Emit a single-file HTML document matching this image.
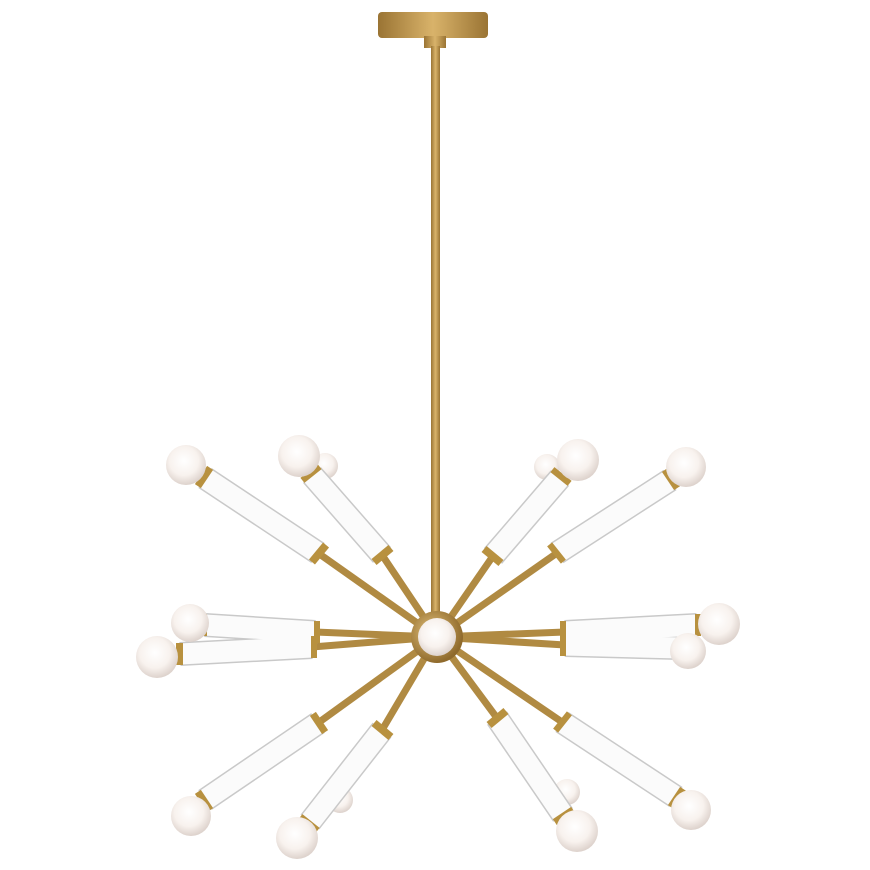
<!DOCTYPE html>
<html><head><meta charset="utf-8"><style>html,body{margin:0;padding:0;background:#fff;width:870px;height:870px;overflow:hidden}</style></head>
<body>
<svg width="870" height="870" viewBox="0 0 870 870" xmlns="http://www.w3.org/2000/svg">
<defs>
<radialGradient id="bulb" cx="0.45" cy="0.4" r="0.6">
<stop offset="0" stop-color="#ffffff"/><stop offset="0.6" stop-color="#f8f2ee"/><stop offset="1" stop-color="#ddd2cc"/>
</radialGradient>
<linearGradient id="brass" x1="0" y1="0" x2="1" y2="0">
<stop offset="0" stop-color="#9a7434"/><stop offset="0.5" stop-color="#d9b36a"/><stop offset="1" stop-color="#9a7434"/>
</linearGradient>
<radialGradient id="hub" cx="0.4" cy="0.4" r="0.6"><stop offset="0" stop-color="#e2c07a"/><stop offset="1" stop-color="#8f6a2c"/></radialGradient>
</defs>
<!-- canopy -->
<rect x="378" y="12" width="110" height="26" rx="4" fill="url(#brass)"/>
<rect x="424" y="36" width="22" height="12" fill="url(#brass)"/>
<rect x="431" y="46" width="9" height="570" fill="url(#brass)"/>
<g id="arms" stroke-linecap="butt">
<!-- back bulbs -->
<g fill="url(#bulb)">
<circle cx="325" cy="466" r="13"/><circle cx="547" cy="467" r="13"/>
<circle cx="340" cy="800" r="13"/><circle cx="567" cy="792" r="13"/>
</g>
<!-- rods -->
<g stroke="#b08a42" stroke-width="7">
<line x1="437" y1="637" x2="318" y2="553"/>
<line x1="437" y1="637" x2="382" y2="555"/>
<line x1="437" y1="637" x2="493" y2="556"/>
<line x1="437" y1="637" x2="557" y2="553"/>
<line x1="437" y1="637" x2="315" y2="632"/>
<line x1="437" y1="637" x2="312" y2="647"/>
<line x1="437" y1="637" x2="565" y2="632"/>
<line x1="437" y1="637" x2="565" y2="645"/>
<line x1="437" y1="637" x2="318" y2="723"/>
<line x1="437" y1="637" x2="382" y2="730"/>
<line x1="437" y1="637" x2="497" y2="718"/>
<line x1="437" y1="637" x2="562" y2="722"/>
</g>
<!-- tube outlines -->
<g stroke="#c9c9c9" stroke-width="24">
<line x1="205" y1="478" x2="318" y2="553"/>
<line x1="312" y1="475" x2="382" y2="555"/>
<line x1="560" y1="478" x2="493" y2="556"/>
<line x1="670" y1="480" x2="557" y2="553"/>
<line x1="205" y1="625" x2="315" y2="632"/>
<line x1="180" y1="654" x2="312" y2="647"/>
<line x1="697" y1="625" x2="565" y2="632"/>
<line x1="680" y1="648" x2="565" y2="645"/>
<line x1="205" y1="800" x2="318" y2="723"/>
<line x1="310" y1="822" x2="382" y2="730"/>
<line x1="563" y1="815" x2="497" y2="718"/>
<line x1="676" y1="797" x2="562" y2="722"/>
</g>
<g stroke="#fbfbfb" stroke-width="21">
<line x1="205" y1="478" x2="318" y2="553"/>
<line x1="312" y1="475" x2="382" y2="555"/>
<line x1="560" y1="478" x2="493" y2="556"/>
<line x1="670" y1="480" x2="557" y2="553"/>
<line x1="205" y1="625" x2="315" y2="632"/>
<line x1="180" y1="654" x2="312" y2="647"/>
<line x1="697" y1="625" x2="565" y2="632"/>
<line x1="680" y1="648" x2="565" y2="645"/>
<line x1="205" y1="800" x2="318" y2="723"/>
<line x1="310" y1="822" x2="382" y2="730"/>
<line x1="563" y1="815" x2="497" y2="718"/>
<line x1="676" y1="797" x2="562" y2="722"/>
</g>
<!-- collars -->
<g stroke="#b8913f" stroke-width="22">
<line x1="201" y1="475" x2="207" y2="479"/><line x1="316" y1="551" x2="322" y2="556"/>
<line x1="309" y1="471" x2="313" y2="476"/><line x1="380" y1="552" x2="385" y2="558"/>
<line x1="563" y1="474" x2="559" y2="479"/><line x1="495" y1="553" x2="490" y2="559"/>
<line x1="674" y1="477" x2="668" y2="481"/><line x1="559" y1="551" x2="554" y2="555"/>
<line x1="201" y1="625" x2="207" y2="625"/><line x1="314" y1="632" x2="320" y2="632"/>
<line x1="176" y1="654" x2="183" y2="654"/><line x1="311" y1="647" x2="317" y2="647"/>
<line x1="701" y1="625" x2="695" y2="625"/><line x1="566" y1="632" x2="560" y2="632"/>
<line x1="684" y1="648" x2="678" y2="648"/><line x1="566" y1="645" x2="560" y2="645"/>
<line x1="201" y1="803" x2="207" y2="799"/><line x1="316" y1="725" x2="322" y2="721"/>
<line x1="307" y1="826" x2="311" y2="821"/><line x1="380" y1="733" x2="385" y2="727"/>
<line x1="566" y1="819" x2="562" y2="813"/><line x1="495" y1="715" x2="500" y2="721"/>
<line x1="680" y1="800" x2="674" y2="796"/><line x1="560" y1="720" x2="565" y2="724"/>
</g>
</g>
<!-- hub -->
<circle cx="437" cy="637" r="26" fill="url(#hub)"/>
<circle cx="437" cy="637" r="19" fill="url(#bulb)"/>
<!-- front bulbs -->
<g fill="url(#bulb)">
<circle cx="186" cy="465" r="20"/>
<circle cx="299" cy="456" r="21"/>
<circle cx="578" cy="460" r="21"/>
<circle cx="686" cy="467" r="20"/>
<circle cx="190" cy="623" r="19"/>
<circle cx="157" cy="657" r="21"/>
<circle cx="719" cy="624" r="21"/>
<circle cx="688" cy="651" r="18"/>
<circle cx="191" cy="816" r="20"/>
<circle cx="297" cy="838" r="21"/>
<circle cx="577" cy="831" r="21"/>
<circle cx="691" cy="810" r="20"/>
</g>
</svg>
</body></html>
